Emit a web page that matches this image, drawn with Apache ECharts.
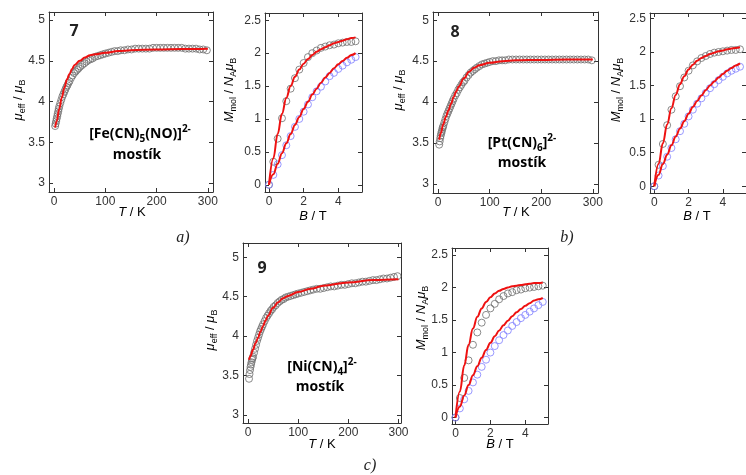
<!DOCTYPE html>
<html>
<head>
<meta charset="utf-8">
<script src="https://cdn.jsdelivr.net/npm/echarts@6/dist/echarts.min.js"></script>
<style>
html, body { margin: 0; background: #fff; }
#main { width: 746px; height: 475px; }
</style>
</head>
<body>
<div id="main"></div>
<script>
// temperatures of the measured mu_eff points (K)
var tData = [2,3,4,5,6,7,8,9,10,12,14,16,18,20,22,24,26,28,30,33,36,39,42,45,48,51,55,59,63,67,71,75,80,85,90,95,100,
    106,112,118,124,130,137,144,151,158,165,172,179,186,193,200,207,214,221,228,235,242,249,256,263,270,277,284,291,298];

// measured mu_eff for 7, 8, 9
var muFe = [3.70,3.73,3.76,3.79,3.82,3.85,3.88,3.91,3.94, 3.98,4.02,4.06,4.09,4.12,4.15,4.18,4.20,4.23,4.25,
    4.29,4.32,4.35,4.37,4.39,4.41,4.43, 4.45,4.47,4.49,4.51,4.52,4.53, 4.55,4.56,4.57,4.58,4.59,
    4.60,4.61,4.62,4.62,4.63,
    4.63,4.64,4.64,4.65,4.65,4.65,4.65,4.65,4.66,4.66,4.66,4.66,4.66,4.66,4.66,4.66,4.66,4.65,4.65,4.65,4.65,4.64,4.64,4.63];
var muPt = [3.48,3.52,3.56,3.59,3.62,3.64,3.67,3.69,3.71, 3.75,3.79,3.83,3.86,3.89,3.92,3.95,3.98,4.01,4.04,
    4.08,4.11,4.15,4.18,4.21,4.24,4.26, 4.30,4.33,4.36,4.38,4.40,4.42, 4.44,4.46,4.47,4.48,4.49,
    4.50,4.50,4.51,4.51,4.51,
    4.52,4.52,4.52,4.52,4.52,4.52,4.52,4.52,4.52,4.52,4.52,4.52,4.52,4.52,4.52,4.52,4.52,4.52,4.52,4.52,4.52,4.52,4.52,4.51];
var muNi = [3.46,3.52,3.57,3.61,3.64,3.67,3.70,3.72,3.74, 3.79,3.84,3.89,3.94,3.98,4.02,4.06,4.09,4.12,4.15,
    4.19,4.23,4.26,4.29,4.32,4.34,4.37, 4.39,4.42,4.44,4.46,4.47,4.49, 4.50,4.51,4.52,4.53,4.54,
    4.55,4.56,4.57,4.58,4.59,
    4.60,4.60,4.61,4.62,4.63,4.63,4.64,4.65,4.65,4.66,4.67,4.67,4.68,4.69,4.69,4.70,4.71,4.71,4.72,4.73,4.73,4.74,4.75,4.76];

// fitted mu_eff curves
var tFit = [2,5,10,15,20,25,30,35,40,50,60,70,80,100,125,150,200,250,300];
var muFeFit = [3.68,3.76,3.91,4.05,4.17,4.27,4.34,4.40,4.45,4.50,4.54,4.57,4.58,4.60,4.62,4.63,4.64,4.645,4.65];
var muPtFit = [3.54,3.62,3.73,3.82,3.90,3.98,4.06,4.13,4.19,4.29,4.37,4.42,4.45,4.48,4.50,4.51,4.515,4.52,4.52];
var muNiFit = [3.70,3.75,3.83,3.91,3.98,4.06,4.13,4.20,4.26,4.36,4.43,4.48,4.51,4.56,4.60,4.64,4.68,4.71,4.72];

// magnetisation: field (T), upper (grey) and lower (blue) isotherms with fits
var bField = [0,0.25,0.5,0.75,1,1.25,1.5,1.75,2,2.25,2.5,2.75,3,3.25,3.5,3.75,4,4.25,4.5,4.75,5];
var mFeHi = [0,0.35,0.70,1.01,1.27,1.46,1.62,1.75,1.85,1.94,2.00,2.04,2.08,2.10,2.12,2.13,2.15,2.16,2.17,2.17,2.18];
var mFeLo = [0,0.15,0.31,0.45,0.60,0.74,0.88,1.00,1.11,1.22,1.33,1.42,1.49,1.57,1.65,1.70,1.76,1.81,1.86,1.90,1.94];
var mFeHiFit = [0,0.40,0.77,1.08,1.32,1.50,1.64,1.75,1.84,1.91,1.97,2.02,2.06,2.09,2.12,2.15,2.17,2.19,2.21,2.23,2.24];
var mFeLoFit = [0,0.16,0.32,0.48,0.63,0.77,0.91,1.03,1.15,1.26,1.37,1.46,1.55,1.63,1.70,1.77,1.83,1.88,1.93,1.97,2.00];
var mPtHi = [0,0.32,0.63,0.91,1.14,1.34,1.49,1.62,1.72,1.80,1.86,1.91,1.94,1.97,1.99,2.00,2.01,2.02,2.03,2.03,2.04];
var mPtLo = [0,0.16,0.30,0.44,0.57,0.70,0.82,0.93,1.04,1.14,1.23,1.31,1.39,1.46,1.52,1.58,1.63,1.68,1.72,1.75,1.78];
var mPtHiFit = [0,0.33,0.64,0.92,1.16,1.36,1.52,1.64,1.74,1.81,1.87,1.91,1.94,1.97,1.99,2.01,2.02,2.04,2.05,2.06,2.07];
var mPtLoFit = [0,0.17,0.33,0.47,0.61,0.74,0.86,0.97,1.08,1.18,1.27,1.35,1.43,1.50,1.56,1.62,1.67,1.72,1.76,1.80,1.83];
var mNiHi = [0,0.30,0.61,0.88,1.12,1.31,1.46,1.58,1.68,1.75,1.82,1.87,1.91,1.93,1.96,1.97,1.99,2.00,2.01,2.02,2.03];
var mNiLo = [0,0.14,0.28,0.41,0.54,0.66,0.78,0.89,1.00,1.10,1.19,1.27,1.34,1.41,1.47,1.53,1.58,1.63,1.68,1.73,1.78];
var mNiHiFit = [0,0.40,0.80,1.12,1.37,1.55,1.68,1.78,1.85,1.91,1.95,1.98,2.00,2.02,2.03,2.04,2.05,2.06,2.07,2.07,2.08];
var mNiLoFit = [0,0.17,0.34,0.50,0.65,0.79,0.92,1.04,1.15,1.25,1.34,1.42,1.49,1.56,1.62,1.67,1.72,1.76,1.80,1.82,1.84];

// tick values
var tTicks = [0,100,200,300];
var muTicks = [3,3.5,4,4.5,5];
var bTicks = [0,2,4];
var mTicks = [0,0.5,1,1.5,2,2.5];

var FONT = 'Liberation Sans';
var INK = '#333';

var panels = [
    {box: {left: 49, top: 12, width: 164, height: 180}, x: [-10, 310], y: [2.89, 5.1], xt: tTicks, yt: muTicks},
    {box: {left: 265, top: 13, width: 97, height: 179}, x: [-0.23, 5.37], y: [-0.11, 2.61], xt: bTicks, yt: mTicks},
    {box: {left: 433, top: 12, width: 165, height: 181}, x: [-10, 310], y: [2.89, 5.1], xt: tTicks, yt: muTicks},
    {box: {left: 650, top: 13, width: 98, height: 180}, x: [-0.25, 5.35], y: [-0.1, 2.58], xt: bTicks, yt: mTicks},
    {box: {left: 243, top: 243, width: 158, height: 180}, x: [-10, 305], y: [2.9, 5.18], xt: tTicks, yt: muTicks},
    {box: {left: 452, top: 248, width: 96, height: 176}, x: [-0.2, 5.3], y: [-0.1, 2.61], xt: bTicks, yt: mTicks}
];

function pairs(xs, ys) {
    return xs.map(function (x, i) { return [x, ys[i]]; });
}

function axis(gridIndex, pos, range, ticks, labels) {
    return {
        type: 'value', gridIndex: gridIndex, position: pos,
        min: range[0], max: range[1],
        axisLine: {onZero: false, lineStyle: {color: INK, width: 1}},
        axisTick: {inside: true, length: 4, customValues: ticks, lineStyle: {color: INK}},
        axisLabel: {show: labels, customValues: ticks, color: INK, fontSize: 12, fontFamily: FONT, margin: 4},
        splitLine: {show: false}
    };
}

var grids = [], xAxes = [], yAxes = [];
panels.forEach(function (p, i) {
    grids.push(Object.assign({show: false}, p.box));
    xAxes.push(axis(i, 'bottom', p.x, p.xt, true));
    xAxes.push(axis(i, 'top', p.x, p.xt, false));
    yAxes.push(axis(i, 'left', p.y, p.yt, true));
    yAxes.push(axis(i, 'right', p.y, p.yt, false));
});

function dots(i, xs, ys, color) {
    return {
        type: 'scatter', xAxisIndex: 2 * i, yAxisIndex: 2 * i, data: pairs(xs, ys),
        symbol: 'circle', symbolSize: 7, silent: true,
        itemStyle: {color: 'rgba(0,0,0,0)', borderColor: color, borderWidth: 1}
    };
}
function fit(i, xs, ys) {
    return {
        type: 'line', xAxisIndex: 2 * i, yAxisIndex: 2 * i, data: pairs(xs, ys),
        showSymbol: false, smooth: 0.4, smoothMonotone: 'x', silent: true, z: 5,
        lineStyle: {color: '#ee1111', width: 2}
    };
}

var GREY = '#6e6e6e', BLUE = '#8080ff';
var series = [
    dots(0, tData, muFe, GREY), fit(0, tFit, muFeFit),
    dots(1, bField, mFeHi, GREY), dots(1, bField, mFeLo, BLUE), fit(1, bField, mFeHiFit), fit(1, bField, mFeLoFit),
    dots(2, tData, muPt, GREY), fit(2, tFit, muPtFit),
    dots(3, bField, mPtHi, GREY), dots(3, bField, mPtLo, BLUE), fit(3, bField, mPtHiFit), fit(3, bField, mPtLoFit),
    dots(4, tData, muNi, GREY), fit(4, tFit, muNiFit),
    dots(5, bField, mNiHi, GREY), dots(5, bField, mNiLo, BLUE), fit(5, bField, mNiHiFit), fit(5, bField, mNiLoFit)
];

// axis titles and annotations
var nameRich = {
    i: {fontFamily: FONT, fontSize: 13, fontStyle: 'italic', color: INK, lineHeight: 18},
    n: {fontFamily: FONT, fontSize: 13, color: INK, lineHeight: 18},
    s: {fontFamily: FONT, fontSize: 9, color: INK, verticalAlign: 'bottom'}
};
var boldRich = {
    b: {fontFamily: 'Open Sans', fontSize: 14, fontWeight: 'bold', color: '#222', lineHeight: 20},
    sb: {fontFamily: 'Open Sans', fontSize: 10, fontWeight: 'bold', color: '#222', verticalAlign: 'bottom'},
    sp: {fontFamily: 'Open Sans', fontSize: 10, fontWeight: 'bold', color: '#222', verticalAlign: 'top'}
};
var MU = '{i|μ}{s|eff}{n| / }{i|μ}{s|B}';
var MM = '{i|M}{s|mol}{n| / }{i|N}{s|A}{i|μ}{s|B}';
var TK = '{i|T}{n| / K}';
var BT = '{i|B}{n| / T}';

function txt(x, y, text, rich, rot) {
    return {
        type: 'text', x: x, y: y, rotation: rot ? Math.PI / 2 : 0, silent: true,
        style: {text: text, rich: rich, align: 'center', verticalAlign: 'middle'}
    };
}
function plain(x, y, text, font) {
    return {
        type: 'text', x: x, y: y, silent: true,
        style: {text: text, font: font, fill: '#222', align: 'center', verticalAlign: 'middle'}
    };
}

var graphics = [
    txt(18, 100, MU, nameRich, true), txt(132, 212, TK, nameRich),
    txt(229, 90, MM, nameRich, true), txt(313, 216, BT, nameRich),
    txt(398, 90, MU, nameRich, true), txt(516, 212, TK, nameRich),
    txt(616, 90, MM, nameRich, true), txt(697, 216, BT, nameRich),
    txt(210, 330, MU, nameRich, true), txt(322, 444, TK, nameRich),
    txt(421, 318, MM, nameRich, true), txt(500, 444, BT, nameRich),

    plain(74, 31, '7', 'bold 16px "Open Sans"'),
    txt(140, 134, '{b|[Fe(CN)}{sb|5}{b|(NO)]}{sp|2-}', boldRich),
    txt(137, 155, '{b|mostík}', boldRich),
    plain(455, 32, '8', 'bold 16px "Open Sans"'),
    txt(522, 143, '{b|[Pt(CN)}{sb|6}{b|]}{sp|2-}', boldRich),
    txt(522, 163, '{b|mostík}', boldRich),
    plain(262, 268, '9', 'bold 16px "Open Sans"'),
    txt(322, 367, '{b|[Ni(CN)}{sb|4}{b|]}{sp|2-}', boldRich),
    txt(320, 387, '{b|mostík}', boldRich),

    plain(183, 238, 'a)', 'italic 16px "Liberation Serif"'),
    plain(567, 238, 'b)', 'italic 16px "Liberation Serif"'),
    plain(370, 466, 'c)', 'italic 16px "Liberation Serif"')
];

var myChart = echarts.init(document.getElementById('main'));

option = {
    animation: false,
    backgroundColor: '#fff',
    grid: grids,
    xAxis: xAxes,
    yAxis: yAxes,
    series: series,
    graphic: graphics
};

myChart.setOption(option);
</script>
</body>
</html>
